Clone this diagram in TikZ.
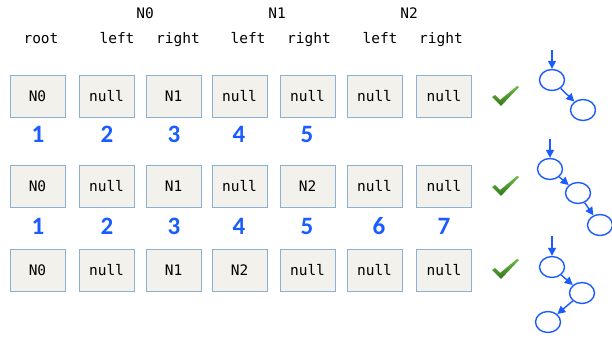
\documentclass[tikz,border=0pt]{standalone}
\usepackage{fontspec}
\setmonofont{DejaVu Sans Mono}
\newfontfamily\numfont{Carlito}
\usetikzlibrary{shapes.geometric,arrows.meta}
\definecolor{boxfill}{HTML}{F2F1EC}
\definecolor{boxline}{HTML}{8CB0D2}
\definecolor{treeblue}{HTML}{1A5CFF}
\definecolor{checkgreen}{HTML}{48A91E}
\tikzset{
  cell/.style={draw=boxline, fill=boxfill, line width=1pt, minimum width=55pt,
    minimum height=42pt, inner sep=0pt, font=\ttfamily\fontsize{14.5}{14.5}\selectfont},
  head/.style={text height=10pt, text depth=3pt, inner sep=0pt,
    font=\ttfamily\fontsize{14.5}{14.5}\selectfont},
  idx/.style={text=treeblue, font=\numfont\bfseries\fontsize{25}{25}\selectfont},
  tnode/.style={ellipse, draw=treeblue, line width=1.4pt, minimum width=25pt,
    minimum height=21pt, inner sep=0pt},
  tedge/.style={treeblue, line width=1.4pt, -{Triangle[length=8pt,width=8pt]}},
  tick/.style={draw=none, top color=checkgreen!80!white, bottom color=checkgreen!70!black}
}
\begin{document}
\begin{tikzpicture}[x=1pt,y=-1pt]
		\useasboundingbox (0,0) rectangle (612,337);

		%headers
		\node[head] (hN0) at (145,15) {N0};
		\node[head] (hN1) at (277,15) {N1};
		\node[head] (hN2) at (409,15) {N2};
		\node[head] (hroot) at (41,40) {root};
		\node[head] (hl0) at (117,40) {left};
		\node[head] (hr0) at (178,40) {right};
		\node[head] (hl1) at (248,40) {left};
		\node[head] (hr1) at (309,40) {right};
		\node[head] (hl2) at (380,40) {left};
		\node[head] (hr2) at (441,40) {right};

		%first row
		\node[cell] (a1) at (37.5,96) {N0};
		\node[cell] (a2) at (106.5,96) {null};
		\node[cell] (a3) at (173.5,96) {N1};
		\node[cell] (a4) at (239.5,96) {null};
		\node[cell] (a5) at (307.5,96) {null};
		\node[cell] (a6) at (374.5,96) {null};
		\node[cell] (a7) at (444,96) {null};

		\node[idx] (ia1) at (38,134) {1};
		\node[idx] (ia2) at (107,134) {2};
		\node[idx] (ia3) at (174,134) {3};
		\node[idx] (ia4) at (239,134) {4};
		\node[idx] (ia5) at (307,134) {5};

		%second row
		\node[cell] (b1) at (37.5,186) {N0};
		\node[cell] (b2) at (106.5,186) {null};
		\node[cell] (b3) at (173.5,186) {N1};
		\node[cell] (b4) at (239.5,186) {null};
		\node[cell] (b5) at (307.5,186) {N2};
		\node[cell] (b6) at (374.5,186) {null};
		\node[cell] (b7) at (444,186) {null};

		\node[idx] (ib1) at (38,226) {1};
		\node[idx] (ib2) at (107,226) {2};
		\node[idx] (ib3) at (174,226) {3};
		\node[idx] (ib4) at (239,226) {4};
		\node[idx] (ib5) at (307,226) {5};
		\node[idx] (ib6) at (379,226) {6};
		\node[idx] (ib7) at (444,226) {7};

		%third row
		\node[cell] (c1) at (37.5,270) {N0};
		\node[cell] (c2) at (106.5,270) {null};
		\node[cell] (c3) at (173.5,270) {N1};
		\node[cell] (c4) at (239.5,270) {N2};
		\node[cell] (c5) at (307.5,270) {null};
		\node[cell] (c6) at (374.5,270) {null};
		\node[cell] (c7) at (444,270) {null};

		%check marks
		\foreach \y in {98,188,271}
			\shade[tick] (492,\y-1) -- (495,\y-3) -- (500,\y+2) -- (517,\y-12) -- (519,\y-11)
				-- (501,\y+8) -- cycle;

		%first tree
		\coordinate (ta0) at (552,50);
		\node[tnode] (ta1) at (552,80) {};
		\node[tnode] (ta2) at (583,110) {};
		\draw[tedge] (ta0) -- (ta1);
		\draw[tedge] (ta1) -- (ta2);

		%second tree
		\coordinate (tb0) at (550,139);
		\node[tnode] (tb1) at (550,169) {};
		\node[tnode] (tb2) at (578,193) {};
		\node[tnode] (tb3) at (600,225) {};
		\draw[tedge] (tb0) -- (tb1);
		\draw[tedge] (tb1) -- (tb2);
		\draw[tedge] (tb2) -- (tb3);

		%third tree
		\coordinate (tc0) at (552,236);
		\node[tnode] (tc1) at (552,267) {};
		\node[tnode] (tc2) at (582,293) {};
		\node[tnode] (tc3) at (548,322) {};
		\draw[tedge] (tc0) -- (tc1);
		\draw[tedge] (tc1) -- (tc2);
		\draw[tedge] (tc2) -- (tc3);
	\end{tikzpicture}
\end{document}
